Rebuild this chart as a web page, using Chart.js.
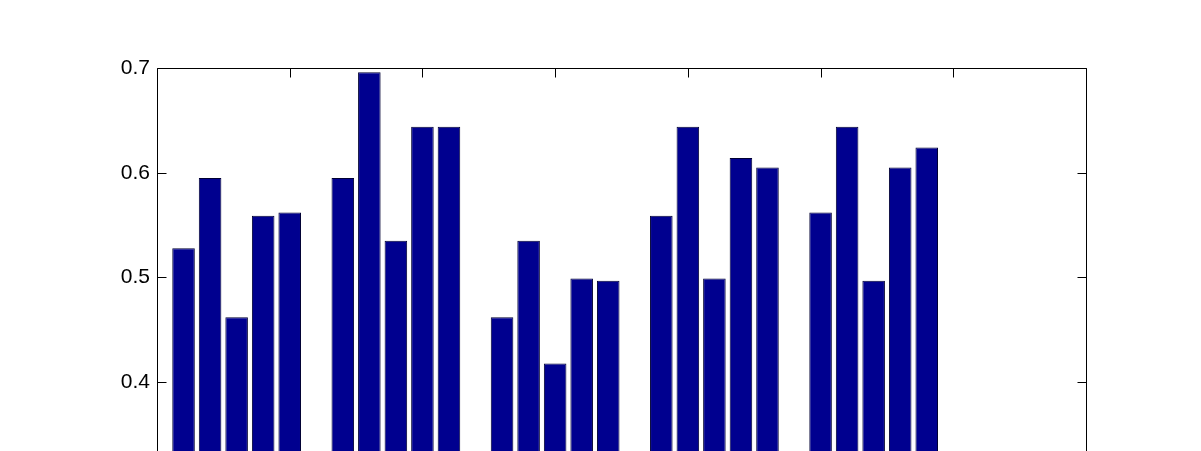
<!DOCTYPE html>
<html>
<head>
<meta charset="utf-8">
<script src="https://cdn.jsdelivr.net/npm/chart.js@4/dist/chart.umd.min.js"></script>
<style>
html,body{margin:0;padding:0;background:#fff;overflow:hidden;}
#wrap{position:absolute;left:0;top:0;width:1201px;height:540px;}
</style>
</head>
<body>
<div id="wrap"><canvas id="c" width="1201" height="540"></canvas></div>
<script>
// bar positions along x (MATLAB-style index with gaps between groups)
const positions = [1,2,3,4,5, 7,8,9,10,11, 13,14,15,16,17, 19,20,21,22,23, 25,26,27,28,29];
// values per group
const group1 = [0.528, 0.595, 0.462, 0.559, 0.562];
const group2 = [0.595, 0.696, 0.535, 0.644, 0.644];
const group3 = [0.462, 0.535, 0.418, 0.499, 0.497];
const group4 = [0.559, 0.644, 0.499, 0.614, 0.605];
const group5 = [0.562, 0.644, 0.497, 0.605, 0.624];
const xTicks = [0,5,10,15,20,25,30,35];
const yTicks = [0.3,0.4,0.5,0.6,0.7];

const values = [].concat(group1, group2, group3, group4, group5);
const points = positions.map((p,i)=>({x:p, y:values[i]}));

const FONT = {family:'"Liberation Sans", Arial, Helvetica, sans-serif', size:21};

const boxPlugin = {
  id:'box',
  afterDraw(chart){
    const {ctx, chartArea:a, scales} = chart;
    ctx.save();
    ctx.strokeStyle='#000';
    ctx.lineWidth=1;
    const L=Math.round(a.left)+0.5, R=Math.round(a.right)+0.5, T=Math.round(a.top)+0.5, B=Math.round(a.bottom)+0.5;
    ctx.beginPath();
    ctx.rect(L,T,R-L,B-T);
    ctx.stroke();
    const tl=9;
    ctx.beginPath();
    xTicks.forEach(v=>{
      const px=Math.round(scales.x.getPixelForValue(v))+0.5;
      ctx.moveTo(px,T); ctx.lineTo(px,T+tl);
      ctx.moveTo(px,B); ctx.lineTo(px,B-tl);
    });
    yTicks.forEach(v=>{
      const py=Math.round(scales.y.getPixelForValue(v))+0.5;
      ctx.moveTo(L,py); ctx.lineTo(L+tl,py);
      ctx.moveTo(R,py); ctx.lineTo(R-tl,py);
    });
    ctx.stroke();
    ctx.restore();
  }
};

new Chart(document.getElementById('c'), {
  type:'bar',
  data:{
    datasets:[{
      data:points,
      backgroundColor:'#00008F',
      borderColor:'#000033',
      borderWidth:1,
      borderSkipped:false,
      categoryPercentage:1.0,
      barPercentage:0.85
    }]
  },
  options:{
    responsive:false,
    animation:false,
    devicePixelRatio:1,
    layout:{padding:{left:0,right:115,top:68,bottom:0}},
    plugins:{legend:{display:false},tooltip:{enabled:false}},
    scales:{
      x:{
        type:'linear',
        offset:false,
        min:0,max:35,
        afterBuildTicks(s){ s.ticks = xTicks.map(v=>({value:v})); },
        afterFit(s){ s.height = 53; },
        grid:{display:false, drawTicks:false, offset:false},
        border:{display:false},
        ticks:{color:'#000', font:FONT, padding:8}
      },
      y:{
        min:0.3,max:0.7,
        afterBuildTicks(s){ s.ticks = yTicks.map(v=>({value:v})); },
        afterFit(s){ s.width = 157; },
        grid:{display:false, drawTicks:false},
        border:{display:false},
        ticks:{color:'#000', font:FONT, padding:7, callback:v=>v.toFixed(1)}
      }
    }
  },
  plugins:[boxPlugin]
});
</script>
</body>
</html>
